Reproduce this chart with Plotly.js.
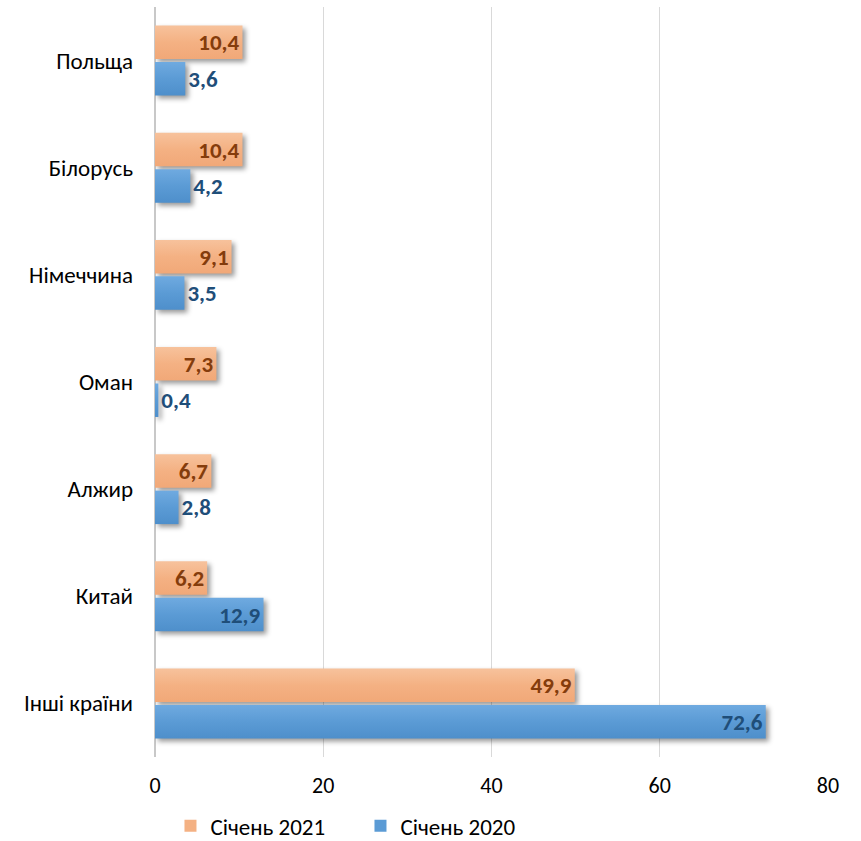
<!DOCTYPE html>
<html>
<head>
<meta charset="utf-8">
<script src="https://cdn.plot.ly/plotly-3.0.1.min.js"></script>
<style>
  html, body { margin: 0; padding: 0; background: #fff; }
  #chart { width: 861px; height: 841px; }
  .barlayer .point path { filter: drop-shadow(3px 3px 2.5px rgba(0,0,0,0.4)); }
</style>
</head>
<body>
<div id="chart"></div>
<script>
const categories = ["Польща", "Білорусь", "Німеччина", "Оман", "Алжир", "Китай", "Інші країни"];
const values2021 = [10.4, 10.4, 9.1, 7.3, 6.7, 6.2, 49.9];
const values2020 = [3.6, 4.2, 3.5, 0.4, 2.8, 12.9, 72.6];
const seriesNames = ["Січень 2021", "Січень 2020"];
const xTicks = [0, 20, 40, 60, 80];

const FONT = "Carlito, 'Liberation Sans', Arial, sans-serif";

const pos2020 = values2020.map(v => v < 6 ? 'outside' : 'inside');

const traces = [
  {
    type: 'bar', orientation: 'h', name: seriesNames[0],
    y: categories, x: values2021,
    marker: { color: '#F4B183' },
    texttemplate: '%{x:.1f}', textposition: 'inside', insidetextanchor: 'end',
    textangle: 0, constraintext: 'none',
    insidetextfont: { family: FONT, size: 23, color: '#843C0C', weight: 'bold' },
    outsidetextfont: { family: FONT, size: 23, color: '#843C0C', weight: 'bold' },
    cliponaxis: false, hoverinfo: 'skip'
  },
  {
    type: 'bar', orientation: 'h', name: seriesNames[1],
    y: categories, x: values2020,
    marker: { color: '#5B9BD5' },
    texttemplate: '%{x:.1f}', textposition: pos2020, insidetextanchor: 'end',
    textangle: 0, constraintext: 'none',
    insidetextfont: { family: FONT, size: 23, color: '#1F4E79', weight: 'bold' },
    outsidetextfont: { family: FONT, size: 23, color: '#1F4E79', weight: 'bold' },
    cliponaxis: false, hoverinfo: 'skip'
  }
];

const layout = {
  width: 861, height: 841,
  margin: { l: 155, r: 33, t: 7, b: 84, autoexpand: false },
  paper_bgcolor: '#ffffff', plot_bgcolor: '#ffffff',
  separators: ', ',
  barmode: 'group', bargap: 0.32, bargroupgap: 0.08,
  font: { family: FONT, size: 22, color: '#000000' },
  xaxis: {
    range: [0, 80], tickvals: xTicks, ticktext: xTicks.map(String),
    showgrid: true, gridcolor: '#d9d9d9', gridwidth: 1,
    zeroline: true, zerolinecolor: '#c8c8c8', zerolinewidth: 1.5,
    showline: false, ticks: '', ticklabelstandoff: 13, automargin: false,
    tickfont: { family: FONT, size: 22, color: '#000' }, fixedrange: true
  },
  yaxis: {
    autorange: 'reversed', showgrid: false, zeroline: false, showline: false,
    ticks: '', ticklabelstandoff: 21, automargin: false,
    tickfont: { family: FONT, size: 23, color: '#000' }, fixedrange: true
  },
  showlegend: true,
  legend: {
    orientation: 'h', xref: 'container', yref: 'container',
    x: 0.198, xanchor: 'left', y: 0.018, yanchor: 'middle',
    font: { family: FONT, size: 23, color: '#000' }, traceorder: 'normal',
    itemwidth: 30, entrywidth: 145, tracegroupgap: 0,
    bgcolor: 'rgba(0,0,0,0)'
  }
};

function addGradients() {
  const svg = document.querySelector('#chart .main-svg');
  if (!svg) return;
  const ns = 'http://www.w3.org/2000/svg';
  let defs = svg.querySelector('defs');
  if (!defs) { defs = document.createElementNS(ns, 'defs'); svg.insertBefore(defs, svg.firstChild); }
  const grads = [
    { id: 'gOrange', stops: ['#F7C29C', '#F4B183', '#F1A878'] },
    { id: 'gBlue', stops: ['#6FAAE0', '#5B9BD5', '#4E8FCB'] }
  ];
  grads.forEach(g => {
    const lg = document.createElementNS(ns, 'linearGradient');
    lg.setAttribute('id', g.id);
    lg.setAttribute('x1', '0'); lg.setAttribute('y1', '0');
    lg.setAttribute('x2', '0'); lg.setAttribute('y2', '1');
    [0, 0.5, 1].forEach((o, i) => {
      const s = document.createElementNS(ns, 'stop');
      s.setAttribute('offset', o);
      s.setAttribute('stop-color', g.stops[i]);
      lg.appendChild(s);
    });
    defs.appendChild(lg);
  });
  const traceGroups = svg.querySelectorAll('.barlayer .trace');
  traceGroups.forEach((tg, i) => {
    const id = i === 0 ? 'gOrange' : 'gBlue';
    tg.querySelectorAll('.point path').forEach(p => { p.style.fill = 'url(#' + id + ')'; });
  });
}

Plotly.newPlot('chart', traces, layout, { staticPlot: true, displayModeBar: false }).then(addGradients);
</script>
</body>
</html>
